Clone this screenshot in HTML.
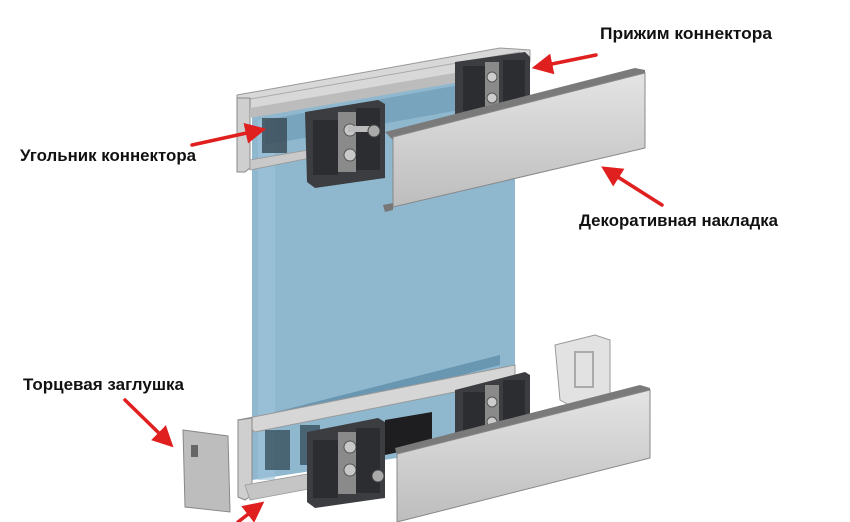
<!DOCTYPE html>
<html><head><meta charset="utf-8"><style>
html,body{margin:0;padding:0;background:#fff;}
svg{display:block}
text{font-family:"Liberation Sans Narrow","Liberation Sans",sans-serif;font-weight:bold;font-size:17px;fill:#111}
</style></head><body>
<svg width="850" height="522" viewBox="0 0 850 522" xmlns="http://www.w3.org/2000/svg">
<defs>
<marker id="ah" markerWidth="6" markerHeight="6" refX="3" refY="3" orient="auto" markerUnits="strokeWidth"><path d="M0,0 L6,3 L0,6 z" fill="#e01f1f"/></marker>
<linearGradient id="alu" x1="0" y1="0" x2="0" y2="1"><stop offset="0" stop-color="#e4e4e4"/><stop offset="1" stop-color="#bdbdbd"/></linearGradient>
</defs>
<polygon points="252,115 515,70 515,440 252,480" fill="#8fb8cf"/>
<polygon points="258,120 275,118 275,480 258,480" fill="#9ec3d8" opacity="0.6"/>
<polygon points="237,95 500,48 530,50 530,62 260,110 237,110" fill="#d8d8d8" stroke="#999" stroke-width="1"/>
<line x1="245" y1="100" x2="520" y2="52" stroke="#aaa" stroke-width="1"/>
<polygon points="237,98 250,98 250,168 245,172 237,172" fill="#cfcfcf" stroke="#888" stroke-width="1"/>
<polygon points="250,108 530,60 530,70 250,118" fill="#bcbcbc"/>
<polygon points="265,120 515,75 515,100 265,145" fill="#6e9bb6" opacity="0.7"/>
<polygon points="250,160 320,148 320,156 250,170" fill="#c9c9c9" stroke="#999" stroke-width="0.8"/>
<rect x="262" y="118" width="25" height="35" fill="#3d4f5a" opacity="0.85"/>
<polygon points="455,62 525,52 530,57 530,115 460,122 455,118" fill="#3b3d40"/>
<rect x="463" y="66" width="22" height="45" fill="#2c2d30"/>
<rect x="485" y="62" width="14" height="48" fill="#8a8a8a"/>
<circle cx="492" cy="77" r="5" fill="#ccc" stroke="#555"/>
<circle cx="492" cy="98" r="5" fill="#ccc" stroke="#555"/>
<rect x="503" y="60" width="22" height="50" fill="#2c2d30"/>
<polygon points="305,112 378,100 385,104 385,178 315,188 307,182" fill="#3b3d40"/>
<rect x="313" y="120" width="25" height="55" fill="#2c2d30"/>
<rect x="338" y="112" width="18" height="60" fill="#8a8a8a"/>
<circle cx="350" cy="130" r="6" fill="#c8c8c8" stroke="#555"/>
<circle cx="350" cy="155" r="6" fill="#c8c8c8" stroke="#555"/>
<rect x="356" y="108" width="24" height="62" fill="#2c2d30"/>
<rect x="348" y="126" width="24" height="6" fill="#bbb"/>
<circle cx="374" cy="131" r="6" fill="#aaa" stroke="#444"/>
<polygon points="385,132 635,68 645,70 645,75 393,140" fill="#7a7a7a"/>
<polygon points="393,137 645,73 645,148 393,207" fill="url(#alu)" stroke="#888" stroke-width="1"/>
<polygon points="383,205 393,203 393,210 385,212" fill="#777"/>
<polygon points="252,418 500,355 500,365 252,430" fill="#5f8eaa" opacity="0.8"/>
<polygon points="238,420 515,365 515,380 255,432" fill="#d6d6d6" stroke="#999" stroke-width="1"/>
<polygon points="238,420 252,418 252,495 245,500 238,497" fill="#cfcfcf" stroke="#888" stroke-width="1"/>
<polygon points="245,485 330,470 330,485 250,500" fill="#c5c5c5" stroke="#999" stroke-width="0.8"/>
<rect x="265" y="430" width="25" height="40" fill="#3d5664" opacity="0.85"/>
<rect x="300" y="425" width="20" height="40" fill="#3d5664" opacity="0.85"/>
<polygon points="385,420 432,412 432,445 385,455" fill="#1e1e20"/>
<polygon points="555,345 595,335 610,340 610,398 578,410 560,400" fill="#e2e2e2" stroke="#999" stroke-width="1"/>
<rect x="575" y="352" width="18" height="35" fill="none" stroke="#aaa" stroke-width="2"/>
<polygon points="455,390 525,372 530,375 530,440 460,450 455,445" fill="#3b3d40"/>
<rect x="463" y="392" width="22" height="50" fill="#2c2d30"/>
<rect x="485" y="385" width="14" height="55" fill="#8a8a8a"/>
<circle cx="492" cy="402" r="5" fill="#ccc" stroke="#555"/>
<circle cx="492" cy="422" r="5" fill="#ccc" stroke="#555"/>
<rect x="503" y="380" width="22" height="58" fill="#2c2d30"/>
<polygon points="307,432 378,418 385,422 385,498 315,508 307,502" fill="#3b3d40"/>
<rect x="313" y="440" width="25" height="58" fill="#2c2d30"/>
<rect x="338" y="432" width="18" height="62" fill="#8a8a8a"/>
<circle cx="350" cy="447" r="6" fill="#c8c8c8" stroke="#555"/>
<circle cx="350" cy="470" r="6" fill="#c8c8c8" stroke="#555"/>
<rect x="356" y="428" width="24" height="65" fill="#2c2d30"/>
<circle cx="378" cy="476" r="6" fill="#aaa" stroke="#444"/>
<polygon points="395,448 640,385 650,388 650,392 397,456" fill="#7a7a7a"/>
<polygon points="397,454 650,390 650,458 397,522" fill="url(#alu)" stroke="#888" stroke-width="1"/>
<polygon points="183,430 228,436 230,512 185,507" fill="#bdbdbd" stroke="#888" stroke-width="1"/>
<rect x="191" y="445" width="7" height="12" fill="#666"/>
<g stroke="#e01f1f" stroke-width="3.5" fill="none" stroke-linecap="round">
<line x1="596" y1="55" x2="542" y2="66" marker-end="url(#ah)"/>
<line x1="192" y1="145" x2="256" y2="131" marker-end="url(#ah)"/>
<line x1="662" y1="205" x2="610" y2="172" marker-end="url(#ah)"/>
<line x1="125" y1="400" x2="166" y2="440" marker-end="url(#ah)"/>
<line x1="238" y1="522" x2="256" y2="508" marker-end="url(#ah)"/>
</g>
<text x="600" y="39" textLength="172" lengthAdjust="spacingAndGlyphs">Прижим коннектора</text>
<text x="20" y="161" textLength="176" lengthAdjust="spacingAndGlyphs">Угольник коннектора</text>
<text x="579" y="226" textLength="199" lengthAdjust="spacingAndGlyphs">Декоративная накладка</text>
<text x="23" y="390" textLength="161" lengthAdjust="spacingAndGlyphs">Торцевая заглушка</text>
</svg>
</body></html>
